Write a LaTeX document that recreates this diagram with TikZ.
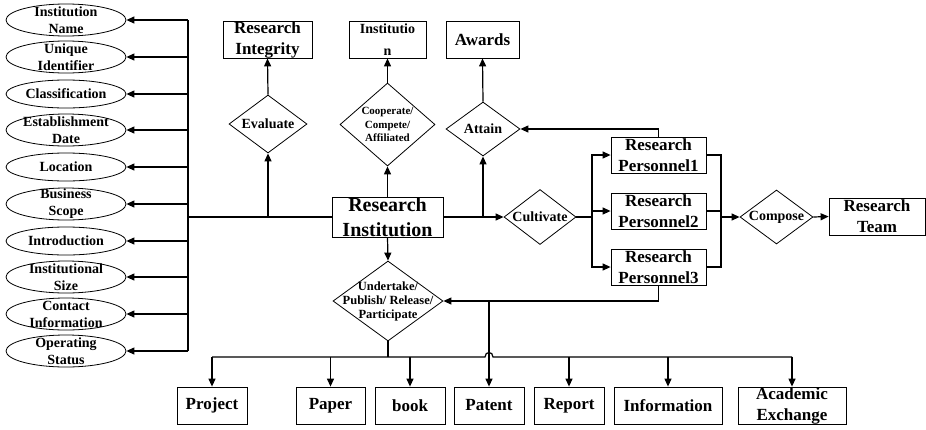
\documentclass[tikz,border=0pt]{standalone}
\usepackage{fontspec}
\setmainfont{Liberation Serif}
\usepackage{tikz}
\usetikzlibrary{calc,arrows.meta,shapes.geometric}
\tikzset{
  line/.style={draw=black, line width=1.2pt},
  arr/.style={line, -{Triangle[length=8pt,width=7pt]}},
  attr/.style={ellipse, draw, line width=0.8pt, inner sep=-15pt, minimum width=120pt, minimum height=28pt, align=center, font=\fontsize{14}{17}\selectfont\bfseries},
  attrtwo/.style={attr, minimum height=32pt},
  ent/.style={rectangle, draw, line width=0.8pt, inner sep=0pt, inner ysep=-6pt, minimum height=37pt, align=center, font=\fontsize{17}{21}\selectfont\bfseries},
  rel/.style={diamond, draw, line width=0.8pt, inner sep=-20pt, align=center, font=\fontsize{14}{17}\selectfont\bfseries}
}
\begin{document}
\begin{tikzpicture}[x=1pt,y=-1pt]
  \useasboundingbox (0,0) rectangle (926,429);

  % attributes on the left
  \node[attrtwo] (name) at (66,20) {Institution\\Name};
  \node[attrtwo] (uid) at (66,57) {Unique\\Identifier};
  \node[attr] (cls) at (66,94) {Classification};
  \node[attrtwo] (date) at (66,130) {Establishment\\Date};
  \node[attr] (loc) at (66,167) {Location};
  \node[attrtwo] (scope) at (66,204) {Business\\Scope};
  \node[attr] (intro) at (66,241) {Introduction};
  \node[attrtwo] (size) at (66,277) {Institutional\\Size};
  \node[attrtwo] (contact) at (66,314) {Contact\\Information};
  \node[attrtwo] (status) at (66,351) {Operating\\Status};

  % main entity
  \node[ent, minimum width=111pt, minimum height=40pt, font=\fontsize{20}{25}\selectfont\bfseries] (ri) at (387.5,217) {Research\\Institution};

  % upper row
  \node[ent, minimum width=89pt] (integ) at (267.5,39.5) {Research\\Integrity};
  \node[ent, minimum width=77pt, font=\fontsize{14}{22}\selectfont\bfseries] (inst) at (387.5,39.5) {Institutio\\n};
  \node[ent, minimum width=73pt] (awards) at (482.5,39.5) {Awards};

  \node[rel, minimum width=78pt, minimum height=58pt] (eval) at (268,124) {Evaluate};
  \node[rel, minimum width=95pt, minimum height=83pt, font=\fontsize{11}{13.5}\selectfont\bfseries] (coop) at (387.5,124.5) {Cooperate/\\Compete/\\Affiliated};
  \node[rel, minimum width=74pt, minimum height=54pt] (attain) at (483,129) {Attain};

  % personnel and team
  \node[rel, minimum width=72pt, minimum height=55pt] (cult) at (540,217) {Cultivate};
  \node[ent, minimum width=95pt, minimum height=36pt] (p1) at (658.5,155) {Research\\Personnel1};
  \node[ent, minimum width=95pt, minimum height=36pt] (p2) at (658.5,211) {Research\\Personnel2};
  \node[ent, minimum width=95pt, minimum height=36pt] (p3) at (658.5,267) {Research\\Personnel3};
  \node[rel, minimum width=73pt, minimum height=54pt] (comp) at (776.5,217) {Compose};
  \node[ent, minimum width=96pt] (team) at (877,216.5) {Research\\Team};

  % outputs
  \node[rel, minimum width=110pt, minimum height=80pt, font=\fontsize{12.5}{14}\selectfont\bfseries] (under) at (388,301) {Undertake/\\Publish/ Release/\\Participate};
  \node[ent, minimum width=70pt] (project) at (212,405.5) {Project};
  \node[ent, minimum width=69pt] (paper) at (330.5,405.5) {Paper};
  \node[ent, minimum width=70pt] (book) at (410,405.5) {book};
  \node[ent, minimum width=70pt] (patent) at (489,405.5) {Patent};
  \node[ent, minimum width=70pt] (report) at (569,405.5) {Report};
  \node[ent, minimum width=108pt] (info) at (668,405.5) {Information};
  \node[ent, minimum width=108pt] (acad) at (792,405.5) {Academic\\Exchange};

  \coordinate (bus) at (188,217);
  \coordinate (split) at (592,217);
  \coordinate (join) at (721,217);
  \coordinate (low) at (388,357);

  % attribute bus
  \draw[line] (name.east -| bus) -- (status.east -| bus);
  \foreach \a in {name,uid,cls,date,loc,scope,intro,size,contact,status}
    \draw[arr] (\a.east -| bus) -- (\a.east);
  \draw[line] (bus) -- (ri.west);

  \draw[arr] (eval |- bus) -- (eval.south);
  \draw[arr] (eval.north) -- (integ.south);
  \draw[arr] (ri.north) -- (coop.south);
  \draw[arr] (coop.north) -- (inst.south);
  \draw[arr] (attain |- ri.east) -- (attain.south);
  \draw[arr] (attain.north) -- (awards.south);

  \draw[arr] (ri.east) -- (cult.west);
  \draw[line] (cult.east) -- (split);
  \foreach \p in {p1,p2,p3} {
    \draw[arr] (split) |- (\p.west);
    \draw[line] (\p.east) -| (join);
  }
  \draw[arr] (join) -- (comp.west);
  \draw[arr] (comp.east) -- (team.west);
  \draw[arr] (p1.north) |- (attain.east);
  \draw[arr] (p3.south) |- (under.east);
  \draw[arr] (patent |- under.east) -- (patent.north);

  \draw[arr] (ri.south) -- (under.north);
  \draw[line] (under.south) -- (low);
  \draw[line] (project.north |- low) -- ($(patent.north |- low)+(-4,0)$)
    .. controls +(0,-6) and +(0,-6) .. ($(patent.north |- low)+(4,0)$) -- (acad.north |- low);
  \foreach \b in {project,paper,book,report,info,acad}
    \draw[arr] (\b.north |- low) -- (\b.north);
\end{tikzpicture}
\end{document}
